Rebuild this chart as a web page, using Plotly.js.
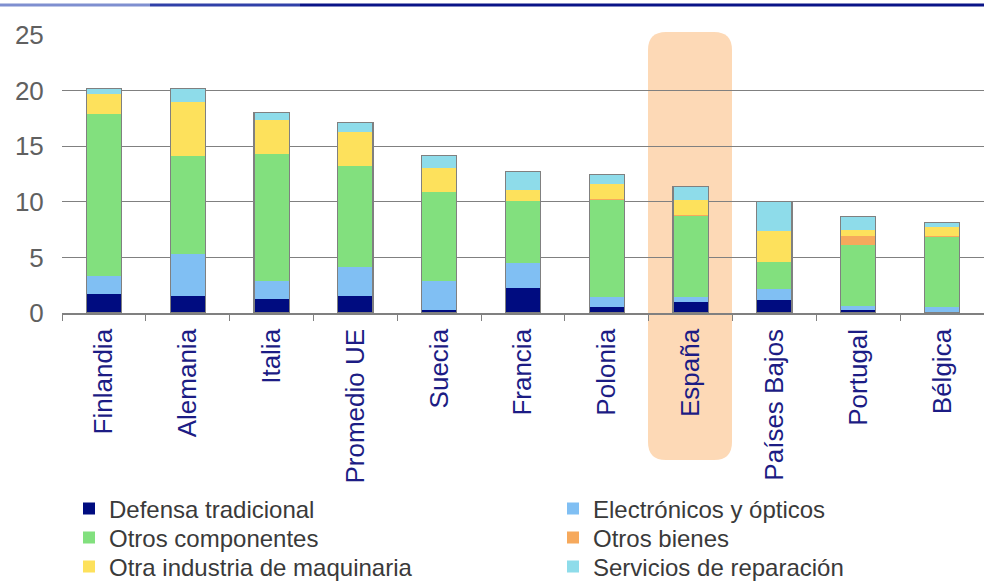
<!DOCTYPE html>
<html><head><meta charset="utf-8">
<script src="https://cdn.plot.ly/plotly-3.0.1.min.js"></script>
<style>body{margin:0;background:#fff}#chart{width:984px;height:584px}</style>
</head><body><div id="chart"></div>
<script>
const categories = ["Finlandia","Alemania","Italia","Promedio UE","Suecia","Francia","Polonia","España","Países Bajos","Portugal","Bélgica"];
const defensaTradicional   = [1.7, 1.5, 1.25, 1.55, 0.3, 2.25, 0.5, 0.95, 1.15, 0.3, 0.0];
const electronicosOpticos  = [1.65, 3.8, 1.65, 2.55, 2.55, 2.25, 0.9, 0.5, 1.0, 0.35, 0.5];
const otrosComponentes     = [14.55, 8.8, 11.4, 9.1, 8.0, 5.6, 8.75, 7.3, 2.4, 5.5, 6.3];
const otrosBienes          = [0.0, 0.0, 0.0, 0.0, 0.0, 0.0, 0.1, 0.1, 0.0, 0.8, 0.1];
const otraIndustriaMaq     = [1.8, 4.9, 3.1, 3.1, 2.2, 1.0, 1.35, 1.35, 2.85, 0.5, 0.8];
const serviciosReparacion  = [0.5, 1.2, 0.6, 0.85, 1.15, 1.6, 0.85, 1.2, 2.65, 1.2, 0.45];
const seriesNames = ["Defensa tradicional","Electrónicos y ópticos","Otros componentes","Otros bienes","Otra industria de maquinaria","Servicios de reparación"];
const seriesColors = ["#000c80","#80bff3","#82e07e","#f6a95c","#fde15c","#8edcea"];
const yTicks = [0,5,10,15,20,25];

const seriesData = [defensaTradicional, electronicosOpticos, otrosComponentes, otrosBienes, otraIndustriaMaq, serviciosReparacion];
const legendIds = ["legend","legend2","legend3","legend4","legend5","legend6"];
const traces = seriesData.map((vals,i)=>({
  type:'bar', x:categories, y:vals, name:seriesNames[i], legend:legendIds[i],
  marker:{color:seriesColors[i], line:{width:0}}, width:0.42
}));
const totals = categories.map((c,j)=>seriesData.reduce((s,a)=>s+a[j],0));
traces.push({type:'bar', x:categories, y:totals, xaxis:'x2', showlegend:false, hoverinfo:'skip',
  marker:{color:'rgba(0,0,0,0)', line:{width:1.2, color:'#808080'}}, width:0.42});

const L=62, T=35, W=922, H=278;
const px=(v)=>(v-L)/W, py=(v)=>(T+H-v)/H;
const x0=px(648), x1=px(732), yb=py(460), yt=py(32), rx=18/W, ry=18/H;
const rr = `M ${x0+rx},${yt} L ${x1-rx},${yt} Q ${x1},${yt} ${x1},${yt-ry} L ${x1},${yb+ry} Q ${x1},${yb} ${x1-rx},${yb} L ${x0+rx},${yb} Q ${x0},${yb} ${x0},${yb+ry} L ${x0},${yt-ry} Q ${x0},${yt} ${x0+rx},${yt} Z`;

const shapes = [
  {type:'path', xref:'paper', yref:'paper', path:rr, fillcolor:'#fdd9b6', line:{width:0}, layer:'below'},
  {type:'line', xref:'paper', yref:'paper', x0:px(0), x1:px(150), y0:py(5), y1:py(5), line:{color:'#7f8fd0', width:3}},
  {type:'line', xref:'paper', yref:'paper', x0:px(150), x1:px(300), y0:py(5), y1:py(5), line:{color:'#3040a8', width:3}},
  {type:'line', xref:'paper', yref:'paper', x0:px(300), x1:px(984), y0:py(5), y1:py(5), line:{color:'#0a1488', width:3}}
];

const legPos = [[69,509],[553,509],[69,538],[553,538],[69,567],[553,567]];
const layout = {
  width:984, height:584, margin:{l:L, r:0, t:T, b:271, autoexpand:false},
  paper_bgcolor:'#ffffff', plot_bgcolor:'rgba(0,0,0,0)',
  barmode:'stack', shapes:shapes,
  font:{family:'Liberation Sans, Arial, sans-serif'},
  xaxis:{type:'category', showgrid:false, showline:true, linecolor:'#808080', linewidth:1.5, automargin:false,
    ticks:'outside', tickson:'boundaries', ticklen:6, tickcolor:'#808080', tickangle:-90, ticklabelstandoff:4,
    tickfont:{size:26, color:'#1c1c84'}, zeroline:false},
  xaxis2:{type:'category', overlaying:'x', matches:'x', visible:false},
  yaxis:{range:[0,25], tickvals:yTicks, showgrid:true, gridcolor:'#808080', gridwidth:1.3, automargin:false,
    zeroline:false, showline:false, ticks:'outside', ticklen:12, tickcolor:'rgba(0,0,0,0)',
    tickfont:{size:26, color:'#606060'}},
  showlegend:true
};
legendIds.forEach((id,i)=>{
  layout[id] = {orientation:'v', xanchor:'left', yanchor:'middle', x:px(legPos[i][0]), y:py(legPos[i][1]),
    font:{size:24, color:'#3a3a3a'}, itemwidth:30, bgcolor:'rgba(0,0,0,0)'};
});
Plotly.newPlot('chart', traces, layout, {displayModeBar:false, staticPlot:true});
</script></body></html>
